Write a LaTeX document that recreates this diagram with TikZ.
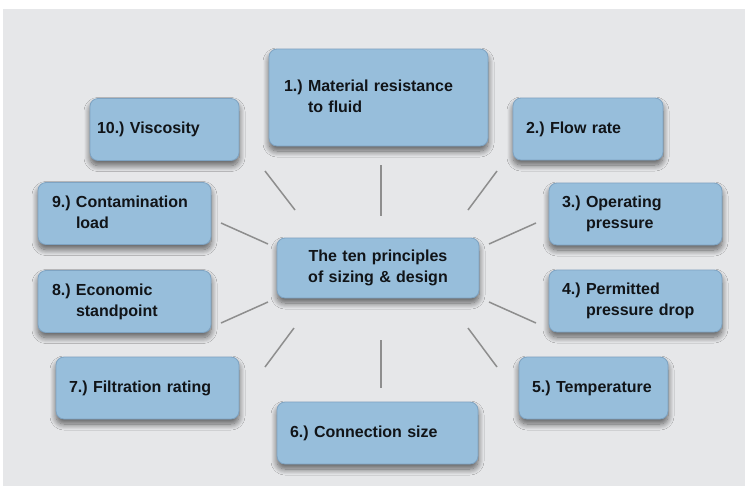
\documentclass[tikz,border=0pt]{standalone}
\usepackage{fontspec}
\setmainfont{Liberation Sans}
\usetikzlibrary{calc,shadows.blur}
\definecolor{boxblue}{HTML}{97BEDB}
\definecolor{boxedge}{HTML}{7EA3C2}
\definecolor{bggray}{HTML}{E6E7E9}
\definecolor{spokegray}{HTML}{8E8E8E}
\definecolor{txtdark}{HTML}{111418}
\newcommand{\pnum}[2]{\begin{tabular}{@{}l@{\ }l@{}}#1 & \begin{tabular}[t]{@{}l@{}}#2\end{tabular}\end{tabular}}

\begin{document}
\begin{tikzpicture}[
    x=1pt, y=-1pt,
    box/.style={draw=boxedge, line width=0.8pt, fill=boxblue, rounded corners=8pt, align=left,
        minimum height=62pt, inner ysep=0pt, inner xsep=13pt, text=txtdark,
        font=\fontsize{16}{21}\selectfont\bfseries,
        blur shadow={shadow xshift=0pt, shadow yshift=-5pt, shadow blur radius=6pt,
            shadow blur steps=12, shadow opacity=60}},
    spoke/.style={draw=spokegray, line width=1.5pt}
]
    \useasboundingbox (0,0) rectangle (745,491);
    \fill[bggray] (3,9) rectangle (745,486);

    \node[box, align=center, text width=182pt, inner xsep=10pt, minimum height=60pt] (centre) at (378,268) {The ten principles\\of sizing \& design};
    \node[box, text width=189pt, inner xsep=15pt, minimum height=97pt] (material) at (378.5,97.5) {\pnum{1.)}{Material resistance\\to fluid}};
    \node[box, text width=124pt] (flow) at (588,129) {\pnum{2.)}{Flow rate}};
    \node[box, text width=147pt] (operating) at (635.5,214) {\pnum{3.)}{Operating\\pressure}};
    \node[box, text width=147pt] (drop) at (635.5,301) {\pnum{4.)}{Permitted\\pressure drop}};
    \node[box, text width=123pt] (temperature) at (593.5,388) {\pnum{5.)}{Temperature}};
    \node[box, text width=175pt] (connection) at (377.5,433) {\pnum{6.)}{Connection size}};
    \node[box, text width=157pt] (filtration) at (147.5,388) {\pnum{7.)}{Filtration rating}};
    \node[box, text width=145pt, inner xsep=14pt] (economic) at (124.5,301.5) {\pnum{8.)}{Economic\\standpoint}};
    \node[box, text width=145pt, inner xsep=14pt] (contamination) at (124.5,213.5) {\pnum{9.)}{Contamination\\load}};
    \node[box, text width=135pt, inner xsep=7pt] (viscosity) at (164.5,129.5) {\pnum{10.)}{Viscosity}};

    \foreach \s/\ax/\ay/\bx/\by in {1/3/-103/3/-52, 2/119/-97/90/-58, 3/158/-45/111/-24, 4/158/55/111/34,
        5/119/99/90/60, 6/3/72/3/120, 7/-113/99/-84/60, 8/-157/55/-110/34, 9/-157/-45/-110/-24, 10/-113/-97/-83/-58} {
        \coordinate (s\s a) at ($(centre)+(\ax,\ay)$);
        \coordinate (s\s b) at ($(centre)+(\bx,\by)$);
        \draw[spoke] (s\s a) -- (s\s b);
    }
\end{tikzpicture}
\end{document}
